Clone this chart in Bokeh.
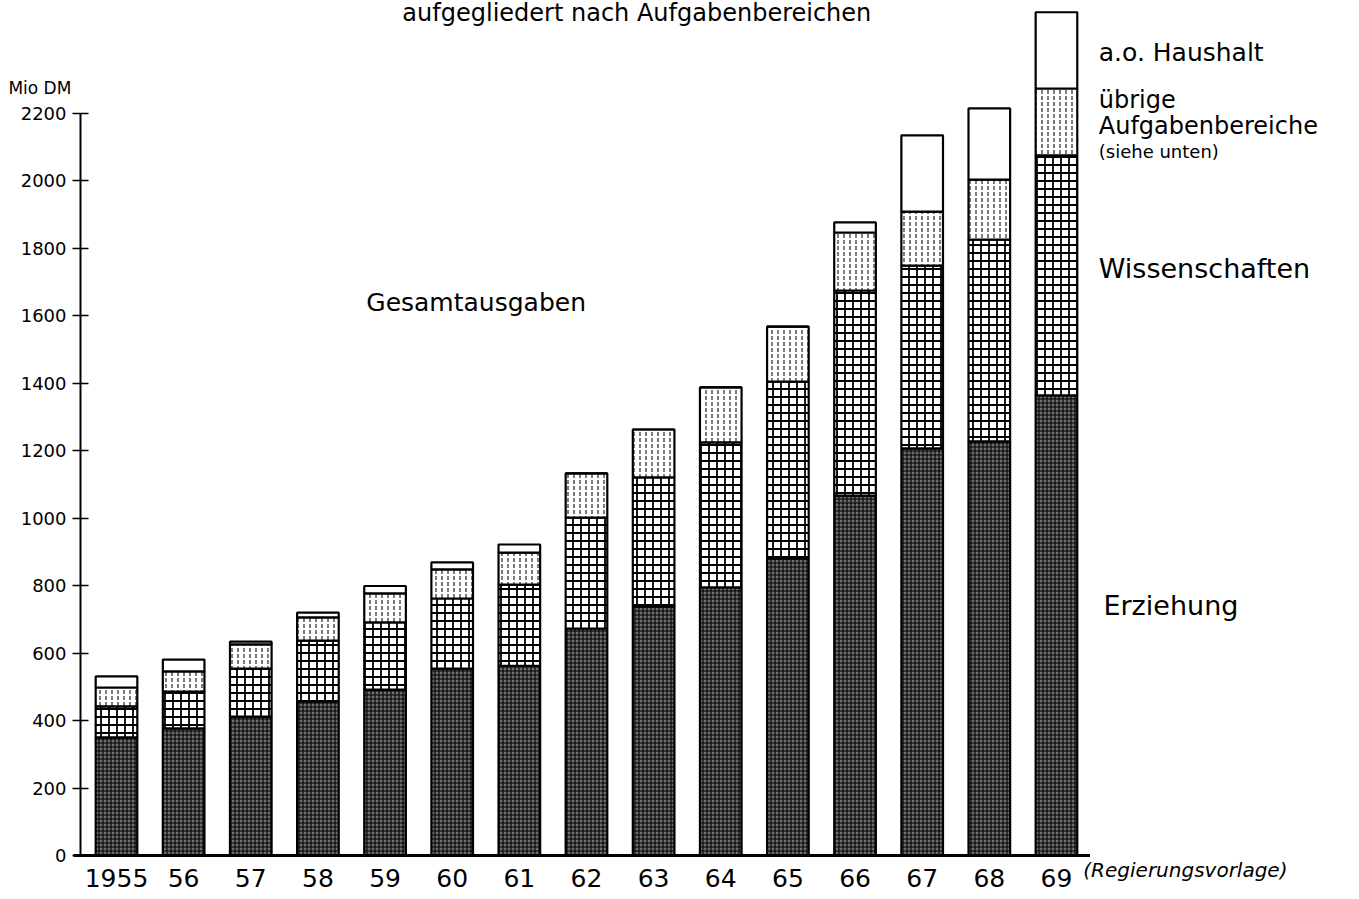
import numpy as np
from bokeh.plotting import figure
from bokeh.models import ColumnDataSource, Range1d, FixedTicker, Label
from bokeh.embed import file_html
from bokeh.resources import INLINE

# ---- data (Mio DM) ----
years = ["1955", "56", "57", "58", "59", "60", "61", "62", "63", "64", "65", "66", "67", "68", "69"]
erziehung = [350, 377, 412, 457, 492, 554, 562, 673, 738, 795, 881, 1067, 1207, 1228, 1364]
wissenschaften = [92, 109, 142, 180, 199, 208, 241, 329, 383, 430, 524, 608, 542, 598, 712]
uebrige = [56, 60, 72, 69, 86, 86, 95, 131, 142, 163, 163, 172, 160, 178, 198]
ao_haushalt = [33, 35, 8, 14, 22, 21, 24, 0, 0, 0, 0, 30, 226, 211, 226]
y_ticks = [0, 200, 400, 600, 800, 1000, 1200, 1400, 1600, 1800, 2000, 2200]

FONT = "DejaVu Sans"

xs = np.arange(len(years))
series = [erziehung, wissenschaften, uebrige, ao_haushalt]
styles = [
    dict(fill_color="#6e6e6e", hatch_pattern="+", hatch_scale=4, hatch_weight=1.1, hatch_color="black"),
    dict(fill_color="white", hatch_pattern="+", hatch_scale=8, hatch_weight=1.8, hatch_color="black"),
    dict(fill_color="white", hatch_pattern=":", hatch_scale=6, hatch_weight=1.2, hatch_color="#222222"),
    dict(fill_color="white"),
]

W, H = 1355, 895
p = figure(width=W, height=H, output_backend="svg", toolbar_location=None,
           x_range=Range1d(-116 / 67.14, (W - 116) / 67.14),
           y_range=Range1d(-(H - 855) / 0.3373, 855 / 0.3373),
           min_border_left=0, min_border_right=0, min_border_top=0, min_border_bottom=0)
p.outline_line_color = None
p.grid.visible = False
p.background_fill_color = "white"

bottom = np.zeros(len(years))
for vals, st in zip(series, styles):
    vals = np.array(vals, dtype=float)
    src = ColumnDataSource(dict(x=xs, bottom=bottom.copy(), top=bottom + vals))
    p.vbar(x="x", bottom="bottom", top="top", width=0.62, source=src,
           line_color="black", line_width=2.2, **st)
    bottom = bottom + vals

# baseline
p.segment(x0=[-0.64], y0=[0], x1=[14.5], y1=[0], line_color="black", line_width=3)

# y axis (drawn inside the frame at a fixed location)
ya = p.yaxis[0]
ya.fixed_location = (80 - 116) / 67.14
ya.ticker = FixedTicker(ticks=y_ticks)
ya.bounds = (0, 2200)
ya.axis_line_width = 2
ya.major_tick_in = 8
ya.major_tick_out = 8
ya.major_tick_line_width = 1.5
ya.minor_tick_line_color = None
ya.major_label_text_font = FONT
ya.major_label_text_font_size = "18px"
ya.major_label_text_color = "black"
ya.major_label_standoff = 6

# x axis
xa = p.xaxis[0]
xa.fixed_location = 0
xa.ticker = FixedTicker(ticks=list(xs))
xa.major_label_overrides = {int(i): y for i, y in zip(xs, years)}
xa.axis_line_color = None
xa.major_tick_line_color = None
xa.minor_tick_line_color = None
xa.major_label_text_font = FONT
xa.major_label_text_font_size = "25px"
xa.major_label_text_color = "black"
xa.major_label_standoff = 7

def lab(x, y, text, size, style="normal", align="left"):
    p.add_layout(Label(x=x, y=y, text=text, text_font=FONT, text_font_size=size,
                       text_font_style=style, text_align=align, text_baseline="middle",
                       text_color="black"))

lab(7.75, 2499, "aufgegliedert nach Aufgabenbereichen", "24px", align="center")
lab(-1.61, 2274, "Mio DM", "17px")
lab(14.63, 2381, "a.o. Haushalt", "25px")
lab(14.63, 2239, "übrige", "24px")
lab(14.63, 2163, "Aufgabenbereiche", "24px")
lab(14.63, 2087, "(siehe unten)", "18px")
lab(14.63, 1740, "Wissenschaften", "27px")
lab(14.70, 741, "Erziehung", "27px")
lab(3.72, 1640, "Gesamtausgaben", "25px")
lab(14.40, -44, "(Regierungsvorlage)", "20px", style="italic")

open("out.html", "w").write(file_html(p, INLINE))
